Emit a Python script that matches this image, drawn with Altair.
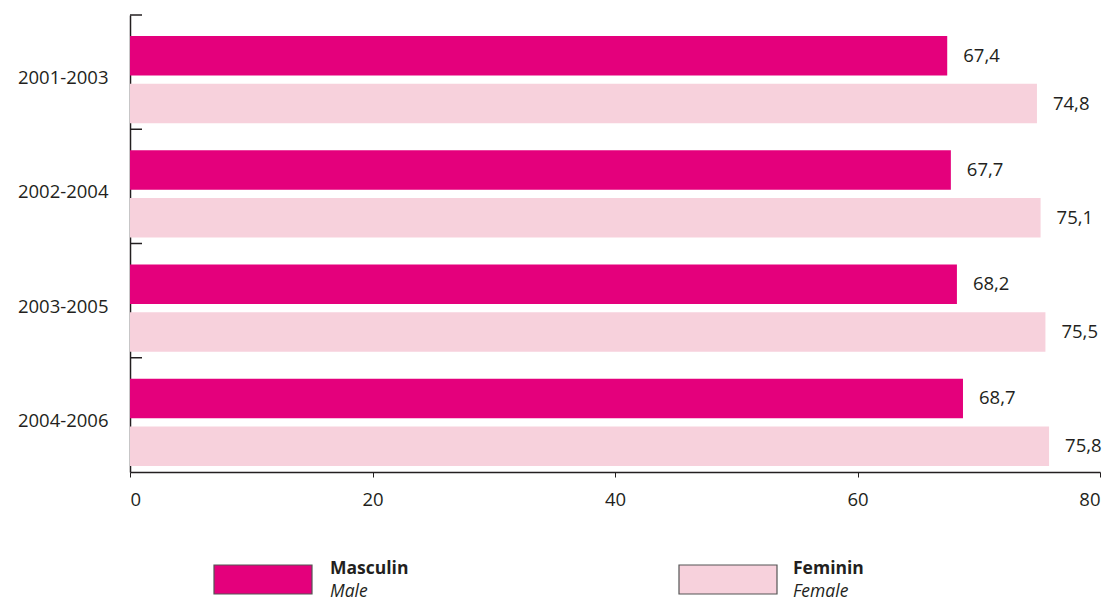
import altair as alt
import pandas as pd

periods = ["2001-2003", "2002-2004", "2003-2005", "2004-2006"]
male = [67.4, 67.7, 68.2, 68.7]
female = [74.8, 75.1, 75.5, 75.8]
sexes = ["Masculin", "Feminin"]
sexes_en = ["Male", "Female"]
colors = ["#E4007C", "#F7D1DC"]
x_ticks = [0, 20, 40, 60, 80]

rows = []
for p, m, f in zip(periods, male, female):
    rows.append({"period": p, "sex": sexes[0], "value": m, "label": f"{m:.1f}".replace(".", ",")})
    rows.append({"period": p, "sex": sexes[1], "value": f, "label": f"{f:.1f}".replace(".", ",")})
df = pd.DataFrame(rows)

FONT = "Open Sans"
TXT = "#231F20"
FS = 18.5
LFS = 17.5

y_enc = alt.Y("period:N", sort=periods, title=None,
              scale=alt.Scale(paddingInner=0, paddingOuter=0),
              axis=alt.Axis(ticks=False, labelFontSize=FS, labelFont=FONT, labelColor=TXT,
                            labelPadding=22, domainColor=TXT, domainWidth=1.5,
                            labelBaseline="middle", labelOffset=6))
yoff = alt.YOffset("sex:N", sort=sexes,
                   scale=alt.Scale(paddingInner=0.17, paddingOuter=0.28, align=0.78))
x_scale = alt.Scale(domain=[0, 80], nice=False)
x_enc = alt.X("value:Q", title=None, scale=x_scale,
              axis=alt.Axis(values=x_ticks, grid=False, tickSize=5, tickColor=TXT, domainColor=TXT,
                            domainWidth=1.5, labelFontSize=FS, labelFont=FONT, labelColor=TXT,
                            labelPadding=13))

bars = alt.Chart(df).mark_bar().encode(
    x=x_enc, y=y_enc, yOffset=yoff,
    color=alt.Color("sex:N", sort=sexes, scale=alt.Scale(domain=sexes, range=colors), legend=None),
)

labels = alt.Chart(df).mark_text(align="left", baseline="middle", dx=16, fontSize=FS, font=FONT, color=TXT).encode(
    x=alt.X("value:Q", scale=x_scale, axis=None),
    y=alt.Y("period:N", sort=periods),
    yOffset=alt.YOffset("sex:N", sort=sexes),
    text="label:N",
)

tick_df = pd.DataFrame({"period": periods})
yticks = alt.Chart(tick_df).mark_rule(color=TXT, strokeWidth=1.5).encode(
    y=alt.Y("period:N", sort=periods, bandPosition=0),
    x=alt.value(0), x2=alt.value(12),
)

leg_df = pd.DataFrame({"sex": sexes, "en": sexes_en, "pos": [0, 1]})

leg_rect = alt.Chart(leg_df).transform_calculate(
    xs="datum.pos == 0 ? 84 : 549"
).transform_calculate(
    xe="datum.xs + 98"
).mark_rect(stroke="#555555", strokeWidth=1.2).encode(
    x=alt.X("xs:Q", scale=None, axis=None), x2=alt.X2("xe:Q"),
    y=alt.value(550), y2=alt.value(579),
    color=alt.Color("sex:N", sort=sexes, scale=alt.Scale(domain=sexes, range=colors), legend=None),
)

leg_bold = alt.Chart(leg_df).transform_calculate(
    xt="datum.pos == 0 ? 200 : 663"
).mark_text(align="left", baseline="middle", fontSize=LFS, fontWeight="bold", font=FONT, color=TXT).encode(
    x=alt.X("xt:Q", scale=None, axis=None), y=alt.value(554), text="sex:N"
)
leg_it = alt.Chart(leg_df).transform_calculate(
    xt="datum.pos == 0 ? 200 : 663"
).mark_text(align="left", baseline="middle", fontSize=LFS, fontStyle="italic", font=FONT, color=TXT).encode(
    x=alt.X("xt:Q", scale=None, axis=None), y=alt.value(577), text="en:N"
)

chart = alt.layer(bars, labels, yticks, leg_rect, leg_bold, leg_it).resolve_scale(x="independent").properties(
    width=970, height=457,
    autosize=alt.AutoSizeParams(type="none"),
    padding={"left": 122, "top": 7, "right": 10, "bottom": 130},
).configure_view(stroke=None)

chart.save("out.html", embed_options={"renderer": "svg", "actions": False})
